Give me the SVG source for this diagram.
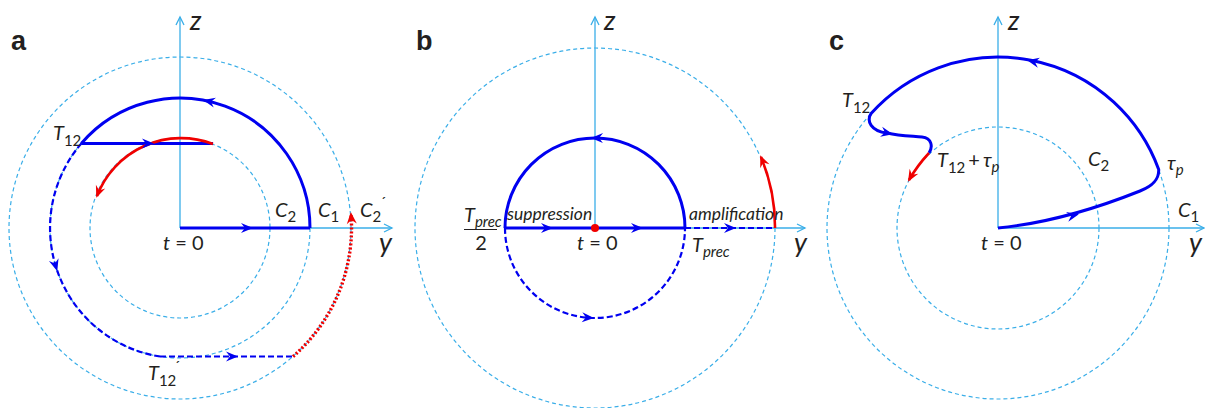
<svg xmlns="http://www.w3.org/2000/svg" xmlns:xlink="http://www.w3.org/1999/xlink" width="1205" height="408" viewBox="0 0 1205 408">
<style>
.ax{fill:none;stroke:#3aaee8;stroke-width:1.3}
.gc{fill:none;stroke:#3aaee8;stroke-width:1.2;stroke-dasharray:4 3}
.bs{fill:none;stroke:#0000f0;stroke-width:3}
.bd{fill:none;stroke:#0000f0;stroke-width:2.2;stroke-dasharray:6 3}
.rs{fill:none;stroke:#f00000;stroke-width:2.6}
.rd{fill:none;stroke:#f00000;stroke-width:3.4;stroke-dasharray:2 2}
.hb{fill:#0000f0}
.hr{fill:#f00000}
text{font-family:Lato,"Open Sans","Liberation Sans",sans-serif;fill:#231f20}
.it{font-style:italic;font-size:20px}
.ax-l{font-style:italic;font-size:27px}
.sb{font-style:normal;font-size:15px}
.sbi{font-style:italic;font-size:15px}
.lb{font-family:"Liberation Sans",Arial,sans-serif;font-weight:bold;font-size:27px}
.ws{font-style:italic;font-size:17.5px}
.up{font-style:normal}
</style>
<defs>
<marker id="axa" viewBox="-10 -6 12 12" markerWidth="12" markerHeight="12" refX="0" refY="0" orient="auto" markerUnits="userSpaceOnUse"><path d="M-8,-4 L0,0 L-8,4" fill="none" stroke="#3aaee8" stroke-width="1.3"/></marker>
<marker id="eb" viewBox="-7 -6 14 12" markerWidth="14" markerHeight="12" refX="4" refY="0" orient="auto" markerUnits="userSpaceOnUse"><path d="M6,0 L-6,-5 L-2,0 L-6,5Z" fill="#0000f0"/></marker>
<marker id="er" viewBox="-7 -6 14 12" markerWidth="14" markerHeight="12" refX="4" refY="0" orient="auto" markerUnits="userSpaceOnUse"><path d="M6,0 L-6,-5 L-2,0 L-6,5Z" fill="#f00000"/></marker>
<path id="hd" d="M6,0 L-6,-5 L-2,0 L-6,5Z"/>
</defs>

<g id="panel-a">
<text class="lb" x="11" y="50">a</text>
<circle class="gc" cx="180" cy="228" r="90"/>
<circle class="gc" cx="180" cy="228" r="130"/>
<circle class="gc" cx="180" cy="228" r="171"/>
<path class="ax" d="M180,228 V17" marker-end="url(#axa)"/>
<path class="ax" d="M180,228 H392" marker-end="url(#axa)"/>
<path class="bs" d="M180,228 H310"/>
<path class="bs" d="M310,228 A130,130 0 0 0 81.3,143.5"/>
<path class="bs" d="M81.3,143.5 H213"/>
<path class="bd" d="M81.3,143.5 A130,130 0 0 0 160,356.5"/>
<path class="bd" d="M160,356.5 H293"/>
<path class="rd" d="M293,356.5 A171,171 0 0 0 351,214" marker-end="url(#er)"/>
<path class="rs" d="M213,144 A90,90 0 0 0 97,196" marker-end="url(#er)"/>
<use href="#hd" class="hb" transform="translate(247,228)"/>
<use href="#hd" class="hb" transform="translate(209,101.3) rotate(193)"/>
<use href="#hd" class="hb" transform="translate(148,143.5)"/>
<use href="#hd" class="hb" transform="translate(55.5,265.4) rotate(73)"/>
<use href="#hd" class="hb" transform="translate(232,356.5)"/>
<text class="ax-l" x="190" y="30">z</text>
<text class="ax-l" x="379" y="252">y</text>
<text class="it" x="53" y="140">T<tspan class="sb" dy="6">12</tspan></text>
<text class="it" x="163" y="250">t<tspan class="up"> = 0</tspan></text>
<text class="it" x="275" y="217">C<tspan class="sb" dy="5">2</tspan></text>
<text class="it" x="318" y="217">C<tspan class="sb" dy="5">1</tspan></text>
<text class="it" x="360" y="217">C<tspan class="sb" dy="5">2</tspan><tspan class="sb" dy="-14" dx="-1">´</tspan></text>
<text class="it" x="148" y="380">T<tspan class="sb" dy="6">12</tspan><tspan class="sb" dy="-14" dx="-2">´</tspan></text>
</g>

<g id="panel-b">
<text class="lb" x="416" y="50">b</text>
<circle class="gc" cx="595" cy="228" r="180"/>
<path class="ax" d="M595,228 V17" marker-end="url(#axa)"/>
<path class="ax" d="M595,228 H805" marker-end="url(#axa)"/>
<path class="bs" d="M505,228 A90,90 0 0 1 685,228"/>
<path class="bd" d="M505,228 A90,90 0 0 0 685,228"/>
<path class="bs" d="M505,228 H685"/>
<path class="bd" d="M685,228 H775"/>
<path class="rs" d="M775,228 A180,180 0 0 0 761,157" marker-end="url(#er)"/>
<circle cx="595" cy="228" r="4" fill="#f00000"/>
<use href="#hd" class="hb" transform="translate(597,138) rotate(181)"/>
<use href="#hd" class="hb" transform="translate(588,317.7) rotate(4)"/>
<use href="#hd" class="hb" transform="translate(547,228)"/>
<use href="#hd" class="hb" transform="translate(637,228)"/>
<use href="#hd" class="hb" transform="translate(730,228)"/>
<text class="ax-l" x="604" y="30">z</text>
<text class="ax-l" x="794" y="252">y</text>
<text class="it" x="464" y="222">T<tspan class="sbi" dy="5">prec</tspan></text>
<path d="M464,229.5 H497" stroke="#231f20" stroke-width="1"/>
<text x="481" y="250" font-size="20" text-anchor="middle">2</text>
<text class="ws" x="507" y="220">suppression</text>
<text class="ws" x="689" y="220">amplification</text>
<text class="it" x="577" y="250">t<tspan class="up"> = 0</tspan></text>
<text class="it" x="692" y="252">T<tspan class="sbi" dy="5">prec</tspan></text>
</g>

<g id="panel-c">
<text class="lb" x="829" y="50">c</text>
<circle class="gc" cx="998" cy="228" r="101"/>
<circle class="gc" cx="998" cy="228" r="171"/>
<path class="ax" d="M998,228 V17" marker-end="url(#axa)"/>
<path class="ax" d="M998,228 H1204" marker-end="url(#axa)"/>
<path class="bs" d="M998,228 C1050,223 1100,207 1140,191 C1155,185 1159,178 1158.7,169.5 A171,171 0 0 0 871.3,113.2 C866,121 871,131 887,133 C900,136 912,136 922,137 C932,138 933,147 929,153"/>
<path class="rs" d="M929,153 Q917,166 909,180" marker-end="url(#er)"/>
<use href="#hd" class="hb" transform="translate(1073,215.5) rotate(-13)"/>
<use href="#hd" class="hb" transform="translate(1033,61.5) rotate(192)"/>
<use href="#hd" class="hb" transform="translate(887,133) rotate(12)"/>
<text class="ax-l" x="1008" y="30">z</text>
<text class="ax-l" x="1189" y="252">y</text>
<text class="it" x="842" y="107">T<tspan class="sb" dy="6">12</tspan></text>
<text class="it" x="937" y="167">T<tspan class="sb" dy="6">12</tspan><tspan class="up" dy="-6" dx="3">+</tspan><tspan dx="3">τ</tspan><tspan class="sbi" dy="5">p</tspan></text>
<text class="it" x="1088" y="166">C<tspan class="sb" dy="5">2</tspan></text>
<text class="it" x="1167" y="170">τ<tspan class="sbi" dy="5">p</tspan></text>
<text class="it" x="1178" y="217">C<tspan class="sb" dy="5">1</tspan></text>
<text class="it" x="981" y="250">t<tspan class="up"> = 0</tspan></text>
</g>
</svg>
